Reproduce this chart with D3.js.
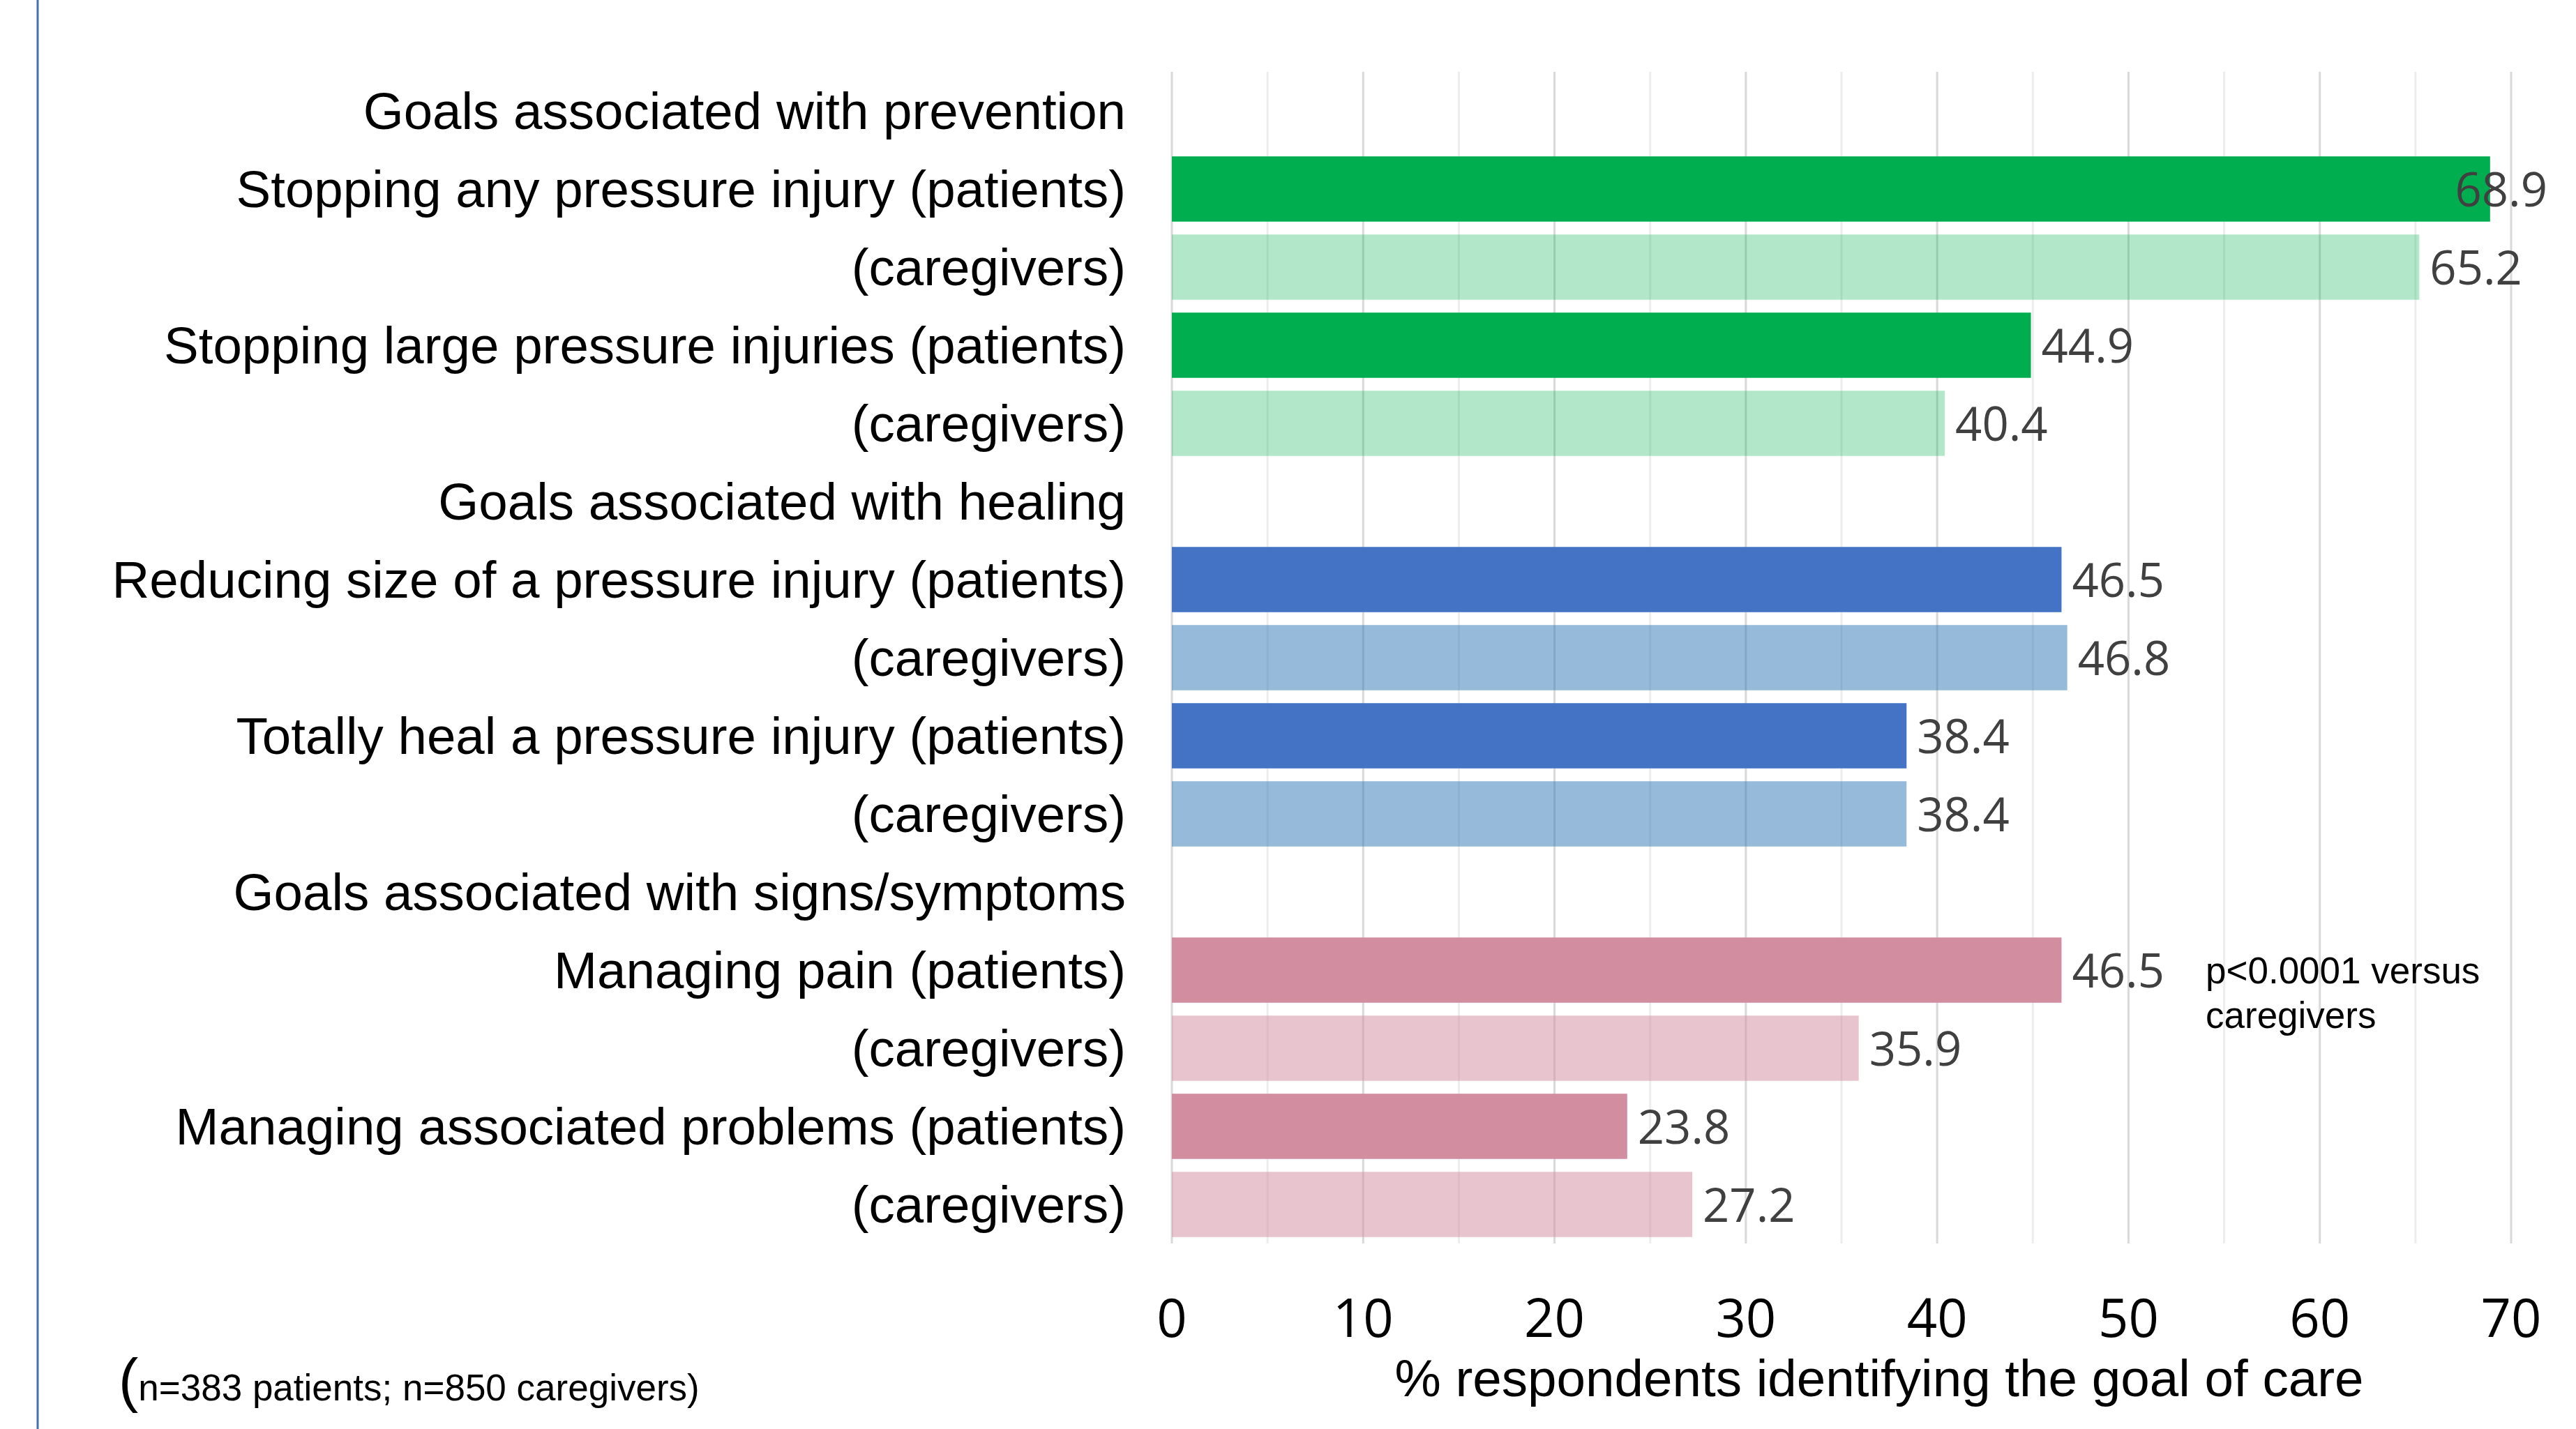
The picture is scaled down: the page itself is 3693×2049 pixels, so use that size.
<!DOCTYPE html>
<html>
<head>
<meta charset="utf-8">
<script src="https://cdn.jsdelivr.net/npm/d3@7"></script>
<style>
  body { margin: 0; background: #fff; }
  svg { display: block; }
</style>
</head>
<body>
<div id="chart"></div>
<script>
var width = 3693
var height = 2049

// rows of the chart, top to bottom (headers have no value)
var labels = [
    "Goals associated with prevention",
    "Stopping any pressure injury (patients)",
    "(caregivers)",
    "Stopping large pressure injuries (patients)",
    "(caregivers)",
    "Goals associated with healing",
    "Reducing size of a pressure injury (patients)",
    "(caregivers)",
    "Totally heal a pressure injury (patients)",
    "(caregivers)",
    "Goals associated with signs/symptoms",
    "Managing pain (patients)",
    "(caregivers)",
    "Managing associated problems (patients)",
    "(caregivers)"
]
var values = [null, 68.9, 65.2, 44.9, 40.4, null, 46.5, 46.8, 38.4, 38.4, null, 46.5, 35.9, 23.8, 27.2]
var groups = ["prevention", "prevention", "prevention", "prevention", "prevention",
    "healing", "healing", "healing", "healing", "healing",
    "symptoms", "symptoms", "symptoms", "symptoms", "symptoms"]
var respondent = ["", "patients", "caregivers", "patients", "caregivers",
    "", "patients", "caregivers", "patients", "caregivers",
    "", "patients", "caregivers", "patients", "caregivers"]
var ticks = [0, 10, 20, 30, 40, 50, 60, 70]
var minorTicks = [5, 15, 25, 35, 45, 55, 65]

var colors = {
    prevention: { patients: ["#00AE4F", 1], caregivers: ["#00AE4F", 0.3] },
    healing: { patients: ["#4472C4", 1], caregivers: ["#2E75B6", 0.5] },
    symptoms: { patients: ["#D28DA1", 1], caregivers: ["#D28DA1", 0.52] }
}

var arial = "'Liberation Sans', Arial, sans-serif"
var sans = "'Open Sans', 'Noto Sans', sans-serif"

var svg = d3.select("#chart")
    .append("svg")
    .attr("width", width)
    .attr("height", height)

// scales
var x = d3.scaleLinear()
    .domain([0, 70])
    .range([1680, 3600])

var y = d3.scaleBand()
    .domain(d3.range(labels.length))
    .range([103, 1783])
    .paddingInner(0.165)
    .paddingOuter(0.0825)

// left border line
svg.append("line")
    .attr("x1", 54).attr("x2", 54)
    .attr("y1", 0).attr("y2", height)
    .attr("stroke", "#4A6DB0")
    .attr("stroke-width", 3)

// gridlines
svg.append("g")
    .selectAll("line")
    .data(minorTicks)
    .enter()
    .append("line")
    .attr("x1", function (d) { return x(d) })
    .attr("x2", function (d) { return x(d) })
    .attr("y1", 103).attr("y2", 1783)
    .attr("stroke", "#EDEDED")
    .attr("stroke-width", 3)

svg.append("g")
    .selectAll("line")
    .data(ticks)
    .enter()
    .append("line")
    .attr("x1", function (d) { return x(d) })
    .attr("x2", function (d) { return x(d) })
    .attr("y1", 103).attr("y2", 1783)
    .attr("stroke", "#D9D9D9")
    .attr("stroke-width", 3)

// bars
var rows = d3.range(labels.length).filter(function (i) { return values[i] != null })

svg.append("g")
    .selectAll("rect")
    .data(rows)
    .enter()
    .append("rect")
    .attr("x", x(0))
    .attr("y", function (i) { return y(i) })
    .attr("width", function (i) { return x(values[i]) - x(0) })
    .attr("height", y.bandwidth())
    .attr("fill", function (i) { return colors[groups[i]][respondent[i]][0] })
    .attr("fill-opacity", function (i) { return colors[groups[i]][respondent[i]][1] })

// value labels
svg.append("g")
    .selectAll("text")
    .data(rows)
    .enter()
    .append("text")
    .attr("y", function (i) { return y(i) + y.bandwidth() / 2 })
    .attr("dy", "0.37em")
    .style("font-family", sans)
    .style("font-size", "67px")
    .attr("fill", "#404040")
    .text(function (i) { return values[i].toFixed(1) })
    .attr("x", function (i) {
        var w = this.getComputedTextLength()
        return Math.min(x(values[i]) + 15, 3652 - w)
    })

// category labels
svg.append("g")
    .selectAll("text")
    .data(d3.range(labels.length))
    .enter()
    .append("text")
    .attr("x", 1614)
    .attr("y", function (i) { return y(i) + y.bandwidth() / 2 })
    .attr("dy", "0.35em")
    .attr("text-anchor", "end")
    .style("font-family", arial)
    .style("font-size", "74.5px")
    .attr("fill", "#000")
    .text(function (i) { return labels[i] })

// x axis tick labels
svg.append("g")
    .selectAll("text")
    .data(ticks)
    .enter()
    .append("text")
    .attr("x", function (d) { return x(d) })
    .attr("y", 1917)
    .attr("text-anchor", "middle")
    .style("font-family", sans)
    .style("font-size", "76px")
    .attr("fill", "#000")
    .text(function (d) { return d })

// axis title
svg.append("text")
    .attr("x", 2694)
    .attr("y", 2002)
    .attr("text-anchor", "middle")
    .style("font-family", arial)
    .style("font-size", "74.6px")
    .attr("fill", "#000")
    .text("% respondents identifying the goal of care")

// significance note
var note = svg.append("text")
    .style("font-family", arial)
    .style("font-size", "53px")
    .attr("fill", "#000")
note.append("tspan").attr("x", 3162).attr("y", 1410).text("p<0.0001 versus")
note.append("tspan").attr("x", 3162).attr("y", 1474).text("caregivers")

// sample size note
var nNote = svg.append("text")
    .attr("x", 170)
    .attr("y", 2008)
    .style("font-family", arial)
    .attr("fill", "#000")
nNote.append("tspan").style("font-size", "85px").text("(")
nNote.append("tspan").style("font-size", "53px").text("n=383 patients; n=850 caregivers)")
</script>
</body>
</html>
